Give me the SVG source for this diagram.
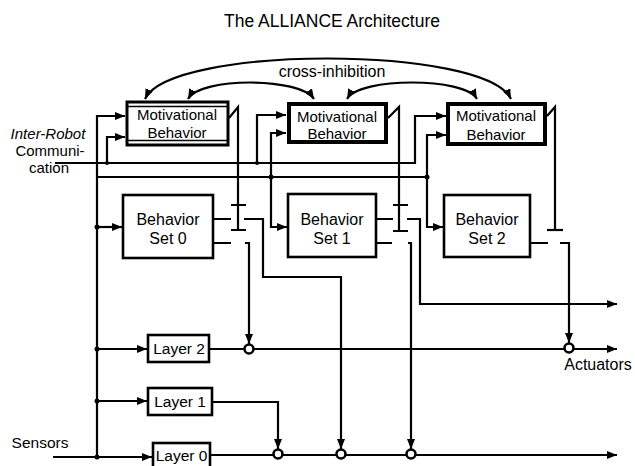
<svg xmlns="http://www.w3.org/2000/svg" width="635" height="466" viewBox="0 0 635 466">
<style>
.ln{fill:none;stroke:#000;stroke-width:2.2;stroke-linejoin:miter;stroke-linecap:butt}
.box{fill:#fff;stroke:#000;stroke-width:2.6}
.mb{fill:#fff;stroke:#000;stroke-width:4}
.t{font-family:"Liberation Sans",Arial,Helvetica,sans-serif;fill:#000;text-anchor:middle}
.dot{fill:#000}
.circ{fill:#fff;stroke:#000;stroke-width:2.6}
</style>
<defs>
<marker id="ah" markerUnits="userSpaceOnUse" markerWidth="10" markerHeight="8" refX="10" refY="4" orient="auto-start-reverse"><path d="M0,0 L10,4 L0,8 z" fill="#000"/></marker>
</defs>
<rect width="635" height="466" fill="#fff"/>

<text class="t" x="332" y="27" font-size="17.5">The ALLIANCE Architecture</text>
<text class="t" x="332" y="77" font-size="16">cross-inhibition</text>
<g id="label-comm">
<text class="t" x="48" y="139" font-size="15" font-style="italic">Inter-Robot</text>
<text class="t" x="50" y="156" font-size="15">Communi-</text>
<text class="t" x="49" y="173" font-size="15">cation</text>
</g>
<text class="t" x="40" y="448" font-size="15.5">Sensors</text>
<text class="t" x="598" y="370" font-size="16">Actuators</text>

<g id="connectors">
<!-- cross-inhibition arcs -->
<path class="ln" d="M145,99 C170,45 485,45 511,99" marker-start="url(#ah)" marker-end="url(#ah)"/>
<path class="ln" d="M188,99 C200,77 300,77 314,99" marker-start="url(#ah)" marker-end="url(#ah)"/>
<path class="ln" d="M347,99 C359,77 465,77 477,99" marker-start="url(#ah)" marker-end="url(#ah)"/>

<!-- sensor bus -->
<path class="ln" d="M97,457 V116 H125" marker-end="url(#ah)"/>
<path class="ln" d="M53,457 H152" marker-end="url(#ah)"/>
<path class="ln" d="M97,349 H147" marker-end="url(#ah)"/>
<path class="ln" d="M97,401 H147" marker-end="url(#ah)"/>
<path class="ln" d="M97,227 H122" marker-end="url(#ah)"/>

<!-- communication line -->
<path class="ln" d="M55,163 H415 V116 H446" marker-end="url(#ah)"/>
<path class="ln" d="M107,163 V137 H125" marker-end="url(#ah)"/>
<path class="ln" d="M257,163 V115 H286" marker-end="url(#ah)"/>

<!-- sensor line -->
<path class="ln" d="M97,177 H427 V135 H446" marker-end="url(#ah)"/>
<path class="ln" d="M271,177 V133 H286" marker-end="url(#ah)"/>
<path class="ln" d="M271,177 V227 H287" marker-end="url(#ah)"/>
<path class="ln" d="M427,177 V227 H443" marker-end="url(#ah)"/>

<!-- motivational outputs and suppression -->
<path class="ln" d="M229,118 L238,107 V230"/>
<path class="ln" d="M231,205 H246 M231,230 H246"/>
<path class="ln" d="M388,118 L399,107 V231"/>
<path class="ln" d="M393,205 H408 M393,231 H408"/>
<path class="ln" d="M547,116 L555,107 V230"/>
<path class="ln" d="M547,230 H563"/>

<!-- behavior set outputs -->
<path class="ln" d="M213,219 H231 M213,243 H231 M376,219 H393 M376,243 H392 M530,243 H548"/>
<path class="ln" d="M244,219 H263 V277 H341 V449" marker-end="url(#ah)"/>
<path class="ln" d="M245,243 H249 V344" marker-end="url(#ah)"/>
<path class="ln" d="M407,219 H420 V304 H617" marker-end="url(#ah)"/>
<path class="ln" d="M408,243 H411 V449" marker-end="url(#ah)"/>
<path class="ln" d="M560,243 H569 V343" marker-end="url(#ah)"/>

<!-- layer outputs -->
<path class="ln" d="M209,349 H617" marker-end="url(#ah)"/>
<path class="ln" d="M212,402 H278 V449" marker-end="url(#ah)"/>
<path class="ln" d="M210,455 H617" marker-end="url(#ah)"/>

<circle class="circ" cx="249" cy="349" r="4.5"/>
<circle class="circ" cx="569" cy="348" r="4.5"/>
<circle class="circ" cx="278" cy="454" r="4.5"/>
<circle class="circ" cx="341" cy="454" r="4.5"/>
<circle class="circ" cx="411" cy="454" r="4.5"/>

<circle class="dot" cx="97" cy="227" r="2.5"/>
<circle class="dot" cx="97" cy="349" r="2.5"/>
<circle class="dot" cx="97" cy="401" r="2.5"/>
<circle class="dot" cx="97" cy="457" r="2.5"/>
<circle class="dot" cx="271" cy="177" r="2.5"/>
<circle class="dot" cx="427" cy="177" r="2.5"/>
<circle class="dot" cx="107" cy="163" r="2"/>
<circle class="dot" cx="257" cy="163" r="2"/>
</g>

<g id="mb1">
<rect x="127" y="102" width="101" height="43" fill="#fff" stroke="#000" stroke-width="3"/>
<path d="M128,106.5 H227 M128,140.5 H227" stroke="#000" stroke-width="1.5" fill="none"/>
<text class="t" x="177" y="120" font-size="15">Motivational</text>
<text class="t" x="177" y="138" font-size="15">Behavior</text>
</g>
<g id="mb2">
<rect class="mb" x="289" y="104" width="97" height="38"/>
<text class="t" x="337" y="122" font-size="15">Motivational</text>
<text class="t" x="337" y="139" font-size="15">Behavior</text>
</g>
<g id="mb3">
<rect class="mb" x="448" y="104" width="97" height="40"/>
<text class="t" x="496" y="121" font-size="15">Motivational</text>
<text class="t" x="496" y="140" font-size="15">Behavior</text>
</g>

<g id="bs0">
<rect class="box" x="123" y="195" width="90" height="63"/>
<text class="t" x="168" y="225" font-size="16">Behavior</text>
<text class="t" x="168" y="244" font-size="16">Set 0</text>
</g>
<g id="bs1">
<rect class="box" x="288" y="194" width="88" height="63"/>
<text class="t" x="332" y="225" font-size="16">Behavior</text>
<text class="t" x="332" y="244" font-size="16">Set 1</text>
</g>
<g id="bs2">
<rect class="box" x="444" y="195" width="86" height="62"/>
<text class="t" x="487" y="225" font-size="16">Behavior</text>
<text class="t" x="487" y="244" font-size="16">Set 2</text>
</g>

<g id="layer2">
<rect class="box" x="148" y="335" width="61" height="27"/>
<text class="t" x="179" y="354" font-size="15.5">Layer 2</text>
</g>
<g id="layer1">
<rect class="box" x="148" y="388" width="64" height="27"/>
<text class="t" x="180" y="407" font-size="15.5">Layer 1</text>
</g>
<g id="layer0">
<rect class="box" x="153" y="443" width="57" height="26"/>
<text class="t" x="181.5" y="461" font-size="15.5">Layer 0</text>
</g>
</svg>
